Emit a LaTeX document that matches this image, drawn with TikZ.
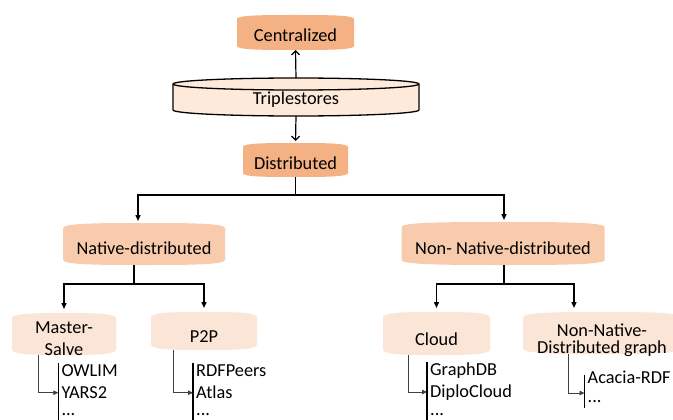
\documentclass[tikz,border=0pt]{standalone}
\usepackage{fontspec}
\setmainfont{Carlito}
\usetikzlibrary{arrows.meta,calc,backgrounds}
\definecolor{cA}{HTML}{F4B183}
\definecolor{cB}{HTML}{F8CBAD}
\definecolor{cC}{HTML}{FBE5D6}
\definecolor{cT}{HTML}{FDEADB}
\newcommand\cushshape[4]{%
  \fill[#2] ([yshift=-#3]#1.north west) .. controls +(0,#3) and +(-#4,0) .. (#1.north)
    .. controls +(#4,0) and +(0,#3) .. ([yshift=-#3]#1.north east)
    -- ([yshift=#3]#1.south east) .. controls +(0,-#3) and +(#4,0) .. (#1.south)
    .. controls +(-#4,0) and +(0,-#3) .. ([yshift=#3]#1.south west) -- cycle;}
\tikzset{
  shp/.style={inner sep=0pt, outer sep=0pt},
  lbl/.style={font=\fontsize{18.3}{22}\selectfont, inner sep=0pt, align=center},
  item/.style={font=\fontsize{18.3}{22}\selectfont, anchor=west, inner xsep=3pt, inner ysep=0pt,
    text height=11.5pt, text depth=0pt},
  toparrow/.style={line width=1.2pt, -{Straight Barb[length=4pt,width=8pt]}},
  tree/.style={line width=1.4pt, -{Triangle[length=6pt,width=5pt]}},
  elb/.style={line width=0.8pt, draw=black!75, -{Triangle[length=5pt,width=4.5pt]}},
  bar/.style={line width=1.5pt}
}
\begin{document}
\begin{tikzpicture}[x=1pt,y=-1pt]
\useasboundingbox (0,0) rectangle (673,420);
% shapes (nodes)
\node[shp, minimum width=117pt, minimum height=35pt] (cen) at (295.5,32.5) {};
\node[shp, minimum width=246pt, minimum height=38pt] (tri) at (296,97) {};
\node[shp, minimum width=105pt, minimum height=34pt] (dis) at (295.5,160) {};
\node[shp, minimum width=162pt, minimum height=42pt] (nat) at (144,244) {};
\node[shp, minimum width=203pt, minimum height=43pt] (non) at (503,243.5) {};
\node[shp, minimum width=104pt, minimum height=42pt] (ms) at (64,334) {};
\node[shp, minimum width=106pt, minimum height=38pt] (p2p) at (204,331) {};
\node[shp, minimum width=107pt, minimum height=43pt] (cld) at (436.5,333.5) {};
\node[shp, minimum width=158pt, minimum height=42pt] (nng) at (602,333) {};
% labels
\node[lbl] (cent) at (295.5,35) {Centralized};
\node[lbl] (trit) at (296,100) {Triplestores};
\node[lbl] (dist) at (295.5,163) {Distributed};
\node[lbl] (natt) at (144,248) {Native-distributed};
\node[lbl] (nont) at (503,248) {Non- Native-distributed};
\node[lbl] (mst) at (64,339) {Master-\\Salve};
\node[lbl] (p2pt) at (204,336.7) {P2P};
\node[lbl] (cldt) at (436.5,339) {Cloud};
\node[lbl, font=\fontsize{18.3}{17}\selectfont] (nngt) at (602,340.5) {Non-Native-\\Distributed graph};
% list items
\node[item] (owlim) at (58.3,371) {OWLIM};
\node[item] (yars) at (58.3,392.7) {YARS2};
\node[item] (dotsa) at (58.3,410) {...};
\node[item] (rdfp) at (193,371) {RDFPeers};
\node[item] (atlas) at (193,392.7) {Atlas};
\node[item] (dotsb) at (193,410) {...};
\node[item] (gdb) at (427,370) {GraphDB};
\node[item] (diplo) at (427,392) {DiploCloud};
\node[item] (dotsc) at (427,410) {...};
\node[item] (acacia) at (584.5,378) {Acacia-RDF};
\node[item] (dotsd) at (584.5,396.5) {...};
% backgrounds
\begin{scope}[on background layer]
  \cushshape{cen}{cA}{4pt}{30pt}
  \cushshape{dis}{cA}{4pt}{27pt}
  \cushshape{nat}{cB}{5pt}{40pt}
  \cushshape{non}{cB}{5pt}{50pt}
  \cushshape{ms}{cC}{5.5pt}{27pt}
  \cushshape{p2p}{cC}{5.5pt}{27pt}
  \cushshape{cld}{cC}{5.5pt}{27pt}
  \cushshape{nng}{cC}{5.5pt}{40pt}
  \filldraw[fill=cT, line width=1.3pt] ([yshift=-6pt]tri.north west) -- ([yshift=6pt]tri.south west)
    arc[start angle=180, end angle=360, x radius=123pt, y radius=6pt]
    -- ([yshift=-6pt]tri.north east)
    arc[start angle=0, end angle=180, x radius=123pt, y radius=6pt] -- cycle;
  \draw[line width=1.3pt] ([yshift=-6pt]tri.north west)
    arc[start angle=180, end angle=360, x radius=123pt, y radius=6pt];
\end{scope}
% connectors
\draw[toparrow] (tri.north) -- (cen.south);
\draw[toparrow, shorten >=2pt] (tri.south) -- (dis.north);
\draw[tree, shorten >=2pt] (dis.south) -- ++(0,18) -| ([xshift=-6pt]nat.north);
\draw[tree, shorten >=2pt] (dis.south) -- ++(0,18) -| ([xshift=1pt]non.north);
\draw[tree, shorten >=4pt] ([xshift=-10pt]nat.south) -- ++(0,19) -| (ms.north);
\draw[tree, shorten >=4pt] ([xshift=-10pt]nat.south) -- ++(0,19) -| (p2p.north);
\draw[tree, shorten >=4pt] ([xshift=1pt]non.south) -- ++(0,19) -| (cld.north);
\draw[tree, shorten >=4pt] ([xshift=1pt]non.south) -- ++(0,19) -| ([xshift=-28pt]nng.north);
% elbows
\draw[elb] ([xshift=-26pt]ms.south) |- (yars.west);
\draw[elb] ([xshift=-31pt]p2p.south) |- (atlas.west);
\draw[elb] ([xshift=-28.5pt]cld.south) |- (diplo.west);
\draw[elb] ([xshift=-34pt]nng.south) |- ([yshift=-15pt]acacia.west);
% bars
\draw[bar] ([yshift=2pt]owlim.north west) -- ([yshift=-20pt]dotsa.south west);
\draw[bar] ([yshift=2pt]rdfp.north west) -- ([yshift=-20pt]dotsb.south west);
\draw[bar] ([yshift=2pt]gdb.north west) -- ([yshift=-20pt]dotsc.south west);
\draw[bar] ([yshift=-3pt]acacia.north west) -- ([yshift=-5.5pt]dotsd.south west);
\end{tikzpicture}
\end{document}
